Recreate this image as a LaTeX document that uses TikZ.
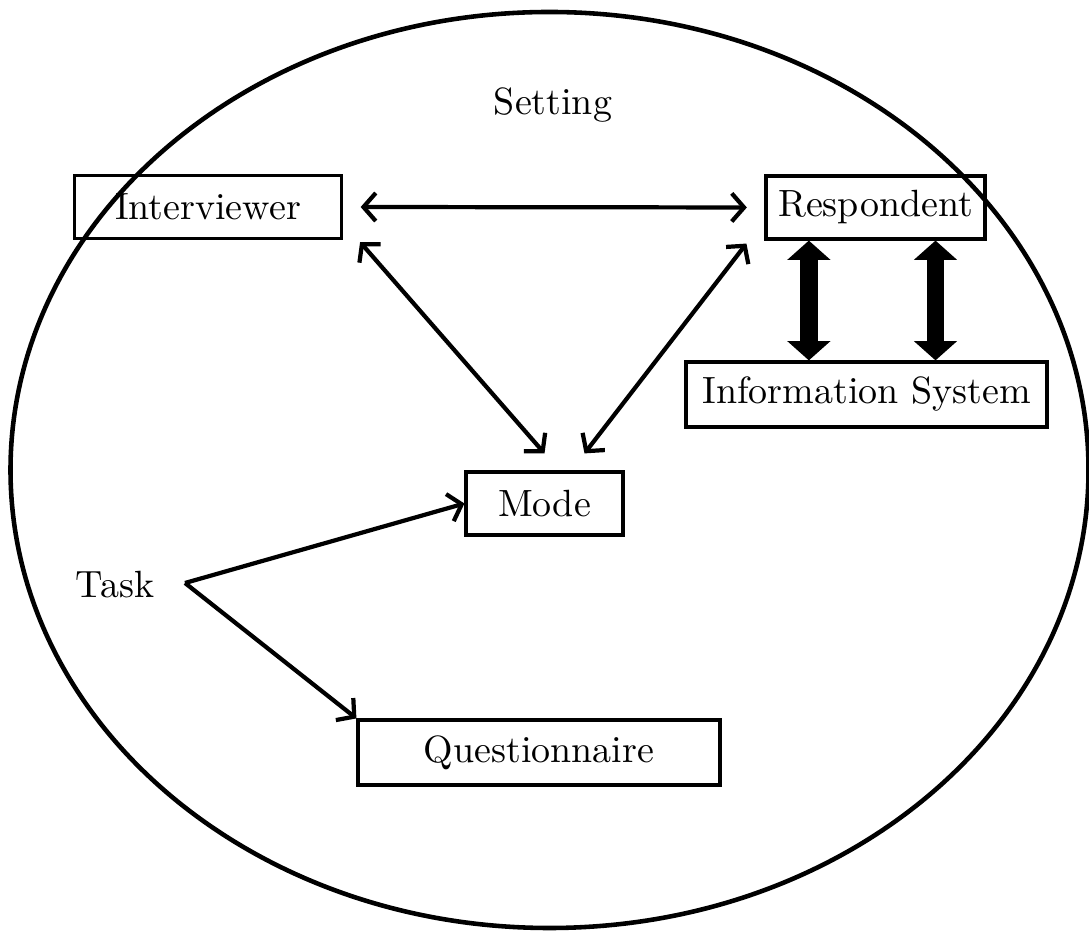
\documentclass[tikz,border=0pt]{standalone}
\usepackage{amsmath}
\usepackage{tikz}
\usetikzlibrary{arrows.meta,calc}

\begin{document}
\begin{tikzpicture}[font=\fontsize{10.8}{12}\selectfont]
    \useasboundingbox (0,0) rectangle (10.89,9.33);
    \draw [line width=1.3pt] (5.495,4.63) ellipse [x radius=5.39, y radius=4.58];

    \begin{scope}[every node/.style={draw,rectangle,line width=0.9pt,inner sep=0pt,minimum height=0.63cm}]
        \node (Int) [minimum width=2.67cm] at (2.08,7.26) {Interviewer};
        \node (Resp) [minimum width=2.19cm] at (8.755,7.255) {Respondent};
        \node (Info) [minimum width=3.61cm,minimum height=0.65cm] at (8.665,5.385) {Information System};
        \node (Mode) [minimum width=1.57cm] at (5.445,4.295) {Mode};
        \node (Quest) [minimum width=3.62cm,minimum height=0.65cm] at (5.39,1.805) {Questionnaire};
    \end{scope}

    \node (Set) at (5.53,8.28) {Setting};
    \node (Task) at (1.15,3.48) {Task};
    \coordinate (Fork) at (1.85,3.50);
    \coordinate (I1) at ($(Int.south east)+(0.17,-0.02)$);
    \coordinate (R0) at ($(Resp.south west)+(-0.18,-0.03)$);
    \coordinate (M0) at ($(Mode.north)+(0,0.17)$);
    \coordinate (M1) at ($(Mode.north)+(0.40,0.17)$);
    \coordinate (R1) at ($(Resp.south west)!0.2!(Resp.south east)$);
    \coordinate (R2) at ($(Resp.south west)!0.77!(Resp.south east)$);

    \begin{scope}[>={Straight Barb[length=3.5pt,width=8pt]},
                  every edge/.style={draw=black,line width=1.2pt}]
        \path [<->,shorten <=5pt,shorten >=5pt] (Int.east) edge (Resp.west);
        \path [<->] (I1) edge (M0);
        \path [<->] (R0) edge (M1);
        \path [->] (Fork) edge (Mode.west);
        \path [->] (Fork) edge (Quest.north west);
    \end{scope}

    \begin{scope}[>={Triangle[width=12pt,length=5.5pt]},
                  every edge/.style={draw=black,line width=5pt}]
        \path [<->] (R1) edge (R1 |- Info.north);
        \path [<->] (R2) edge (R2 |- Info.north);
    \end{scope}
\end{tikzpicture}
\end{document}
